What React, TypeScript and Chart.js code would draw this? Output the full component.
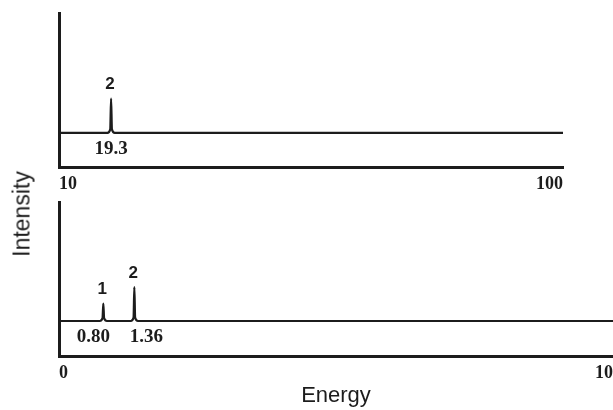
import React, { useEffect, useRef } from 'react';
import { Chart, registerables } from 'chart.js';

Chart.register(...registerables);

// ---------- data ----------
// Upper panel (energy range 10 - 100)
const topTicks = [10, 100];
const topEnergy = [10, 18.65, 19.15, 19.3, 19.45, 19.95, 100];
const topIntensity = [1, 1, 1.1, 2.0, 1.1, 1, 1];
const topPeakEnergy = [19.3];
const topPeakIntensity = [2.0];
const topPeakNumber = ['2'];
const topPeakValue = ['19.3'];

// Lower panel (energy range 0 - 10)
const bottomTicks = [0, 10];
const bottomEnergy = [0, 0.735, 0.786, 0.8, 0.814, 0.865, 1.295, 1.346, 1.36, 1.374, 1.425, 10];
const bottomIntensity = [1, 1, 1.08, 1.5, 1.08, 1, 1, 1.1, 1.97, 1.1, 1, 1];
const bottomPeakEnergy = [0.8, 1.36];
const bottomPeakIntensity = [1.5, 1.97];
const bottomPeakNumber = ['1', '2'];
const bottomPeakValue = ['0.80', '1.36'];

const INK = '#1c1c1c';
const SERIF = '"Liberation Serif", "Times New Roman", serif';
const SANS = '"Liberation Sans", Arial, sans-serif';

const peakLabelPlugin = {
  id: 'peakLabels',
  afterDatasetsDraw(chart: any, _args: any, opts: any) {
    if (!opts || !opts.energies) return;
    const { ctx } = chart;
    const x = chart.scales.x;
    const y = chart.scales.y;
    ctx.save();
    ctx.fillStyle = INK;
    ctx.textAlign = 'center';
    ctx.textBaseline = 'middle';
    const base = y.getPixelForValue(opts.baseline);
    opts.energies.forEach((e: number, i: number) => {
      const px = x.getPixelForValue(e);
      const top = y.getPixelForValue(opts.heights[i]);
      ctx.font = 'bold 17px ' + SANS;
      ctx.fillText(opts.numbers[i], px - 1, top - 14);
      ctx.font = 'bold 19px ' + SERIF;
      ctx.fillText(opts.values[i], px + (opts.shifts[i] || 0), base + 16);
    });
    ctx.restore();
  },
};

function makeConfig(p: {
  energy: number[];
  intensity: number[];
  ticks: number[];
  xMin: number;
  xMax: number;
  yMax: number;
  padding: any;
  xHeight: number;
  title: boolean;
  peaks: any;
}): any {
  return {
    type: 'line',
    data: {
      datasets: [
        {
          data: p.energy.map((e, i) => ({ x: e, y: p.intensity[i] })),
          borderColor: INK,
          borderWidth: 2.2,
          pointRadius: 0,
          cubicInterpolationMode: 'monotone',
          fill: false,
        },
      ],
    },
    options: {
      responsive: false,
      animation: false,
      devicePixelRatio: 1,
      layout: { padding: p.padding },
      plugins: {
        legend: { display: false },
        tooltip: { enabled: false },
        peakLabels: p.peaks,
      },
      scales: {
        x: {
          type: 'linear',
          min: p.xMin,
          max: p.xMax,
          afterBuildTicks: (s: any) => {
            s.ticks = p.ticks.map((v) => ({ value: v }));
          },
          afterFit: (s: any) => {
            s.height = p.xHeight;
            s.paddingLeft = 0;
            s.paddingRight = 0;
          },
          ticks: {
            align: 'inner',
            autoSkip: false,
            maxRotation: 0,
            padding: 7,
            color: INK,
            font: { family: SERIF, size: 18, weight: 'bold' },
          },
          grid: { display: false, drawTicks: false },
          border: { display: true, width: 3, color: INK },
          title: {
            display: p.title,
            text: 'Energy',
            color: INK,
            font: { family: SANS, size: 22 },
            padding: { top: 0, bottom: 1 },
          },
        },
        y: {
          type: 'linear',
          min: 0,
          max: p.yMax,
          ticks: { display: false },
          grid: { display: false, drawTicks: false },
          border: { display: true, width: 3, color: INK },
          afterFit: (s: any) => {
            s.width = 0;
          },
        },
      },
    },
    plugins: [peakLabelPlugin],
  };
}

export default function App() {
  const topRef = useRef<HTMLCanvasElement>(null);
  const botRef = useRef<HTMLCanvasElement>(null);

  useEffect(() => {
    const top = new Chart(
      topRef.current as HTMLCanvasElement,
      makeConfig({
        energy: topEnergy,
        intensity: topIntensity,
        ticks: topTicks,
        xMin: 10,
        xMax: 100,
        yMax: 4.5,
        padding: { left: 59, top: 13, right: 50, bottom: 0 },
        xHeight: 33,
        title: false,
        peaks: {
          energies: topPeakEnergy,
          heights: topPeakIntensity,
          numbers: topPeakNumber,
          values: topPeakValue,
          shifts: [0],
          baseline: 1,
        },
      })
    );
    const bottom = new Chart(
      botRef.current as HTMLCanvasElement,
      makeConfig({
        energy: bottomEnergy,
        intensity: bottomIntensity,
        ticks: bottomTicks,
        xMin: 0,
        xMax: 10,
        yMax: 4.4,
        padding: { left: 59, top: 12, right: 0, bottom: 0 },
        xHeight: 54,
        title: true,
        peaks: {
          energies: bottomPeakEnergy,
          heights: bottomPeakIntensity,
          numbers: bottomPeakNumber,
          values: bottomPeakValue,
          shifts: [-10, 12],
          baseline: 1,
        },
      })
    );
    return () => {
      top.destroy();
      bottom.destroy();
    };
  }, []);

  return (
    <div
      style={{
        position: 'absolute',
        left: 0,
        top: 0,
        width: 613,
        height: 410,
        background: '#fff',
        overflow: 'hidden',
      }}
    >
      <canvas ref={topRef} width={613} height={200} style={{ position: 'absolute', left: 0, top: 0 }} />
      <canvas ref={botRef} width={613} height={220} style={{ position: 'absolute', left: 0, top: 190 }} />
      <div
        style={{
          position: 'absolute',
          left: 22,
          top: 214,
          transform: 'translate(-50%, -50%) rotate(-90deg)',
          fontFamily: SANS,
          fontSize: 23,
          color: INK,
          whiteSpace: 'nowrap',
          lineHeight: 1,
        }}
      >
        Intensity
      </div>
    </div>
  );
}
